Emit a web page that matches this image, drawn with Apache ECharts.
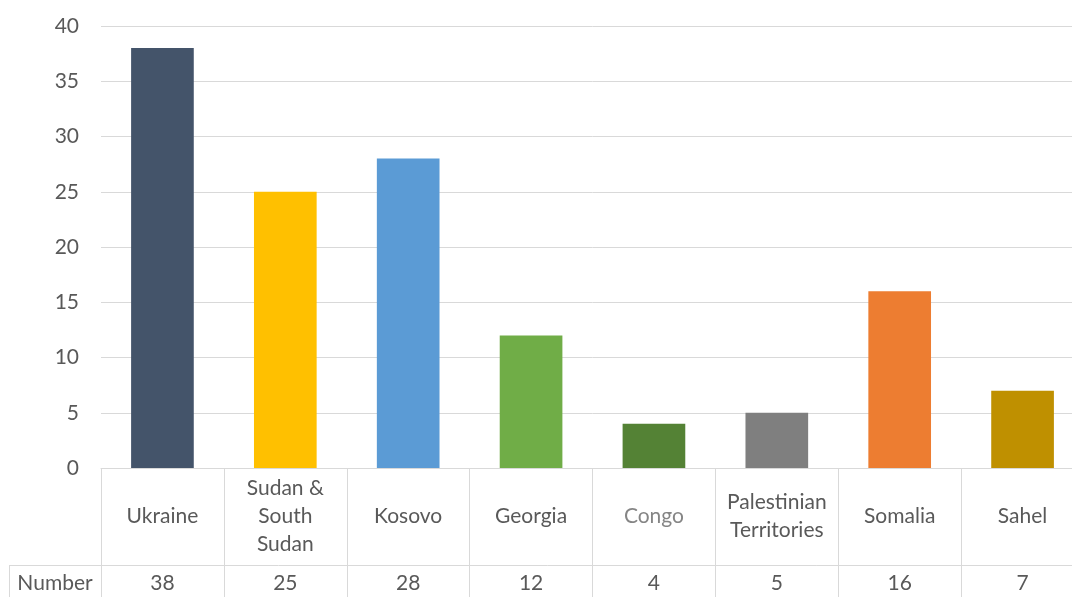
<!DOCTYPE html>
<html>
<head>
<meta charset="utf-8">
<script src="https://cdn.jsdelivr.net/npm/echarts@6/dist/echarts.min.js"></script>
<style>
  html, body { margin: 0; padding: 0; background: #fff; overflow: hidden; }
  #chart { width: 1085px; height: 597px; }
</style>
</head>
<body>
<div id="chart"></div>
<script>
// Deployments by region
const categories = ['Ukraine', 'Sudan &\nSouth\nSudan', 'Kosovo', 'Georgia', 'Congo', 'Palestinian\nTerritories', 'Somalia', 'Sahel'];
const values = [38, 25, 28, 12, 4, 5, 16, 7];
const barColors = ['#44546A', '#FFC000', '#5B9BD5', '#70AD47', '#548235', '#7F7F7F', '#ED7D31', '#BF9000'];
const yTicks = { min: 0, max: 40, interval: 5 };
const rowLabel = 'Number';

const FONT = 'Lato, "Noto Sans", sans-serif';
const TEXT = '#595959';
const LINE = '#D9D9D9';

// layout of plot and the data table beneath it
const gridLeft = 101, gridTop = 26, gridBottomY = 468, nameRowH = 97;
const tableRowY = gridBottomY + nameRowH;

const nameLabel = {
  color: TEXT, fontSize: 21, fontFamily: FONT,
  lineHeight: 28, verticalAlign: 'middle', align: 'center'
};

const chart = echarts.init(document.getElementById('chart'), null, { renderer: 'canvas' });

chart.setOption({
  animation: false,
  backgroundColor: '#fff',
  textStyle: { fontFamily: FONT },
  grid: { left: gridLeft, top: gridTop, width: 983, bottom: 597 - gridBottomY, containLabel: false },
  yAxis: {
    type: 'value',
    min: yTicks.min, max: yTicks.max, interval: yTicks.interval,
    axisLine: { show: false },
    axisTick: { show: false },
    splitLine: { lineStyle: { color: LINE, width: 1 } },
    axisLabel: { color: TEXT, fontSize: 21, fontFamily: FONT, margin: 22 }
  },
  xAxis: [
    {
      type: 'category',
      data: categories.map(c => c === 'Congo'
        ? { value: c, textStyle: Object.assign({}, nameLabel, { color: '#858585' }) }
        : c),
      boundaryGap: true,
      axisLine: { show: true, lineStyle: { color: LINE, width: 1 } },
      axisTick: { show: true, interval: 0, length: 140, lineStyle: { color: LINE, width: 1 } },
      axisLabel: Object.assign({ interval: 0, margin: nameRowH / 2 }, nameLabel)
    },
    {
      type: 'category',
      data: values.map(String),
      position: 'bottom',
      boundaryGap: true,
      axisLine: { show: false },
      axisTick: { show: false },
      axisLabel: {
        interval: 0, color: TEXT, fontSize: 21, fontFamily: FONT,
        margin: nameRowH + 18, verticalAlign: 'middle', align: 'center'
      }
    }
  ],
  series: [{
    type: 'bar',
    xAxisIndex: 0,
    barCategoryGap: '49%',
    data: values.map((v, i) => ({ value: v, itemStyle: { color: barColors[i] } }))
  }],
  graphic: [
    { type: 'line', silent: true, shape: { x1: 9.5, y1: tableRowY + 0.5, x2: 1085, y2: tableRowY + 0.5 }, style: { stroke: LINE, lineWidth: 1 } },
    { type: 'line', silent: true, shape: { x1: 9.5, y1: tableRowY, x2: 9.5, y2: 600 }, style: { stroke: LINE, lineWidth: 1 } },
    { type: 'text', silent: true, x: 55, y: tableRowY + 18, style: { text: rowLabel, fill: TEXT, font: '21px ' + FONT, align: 'center', verticalAlign: 'middle' } }
  ]
});
</script>
</body>
</html>
